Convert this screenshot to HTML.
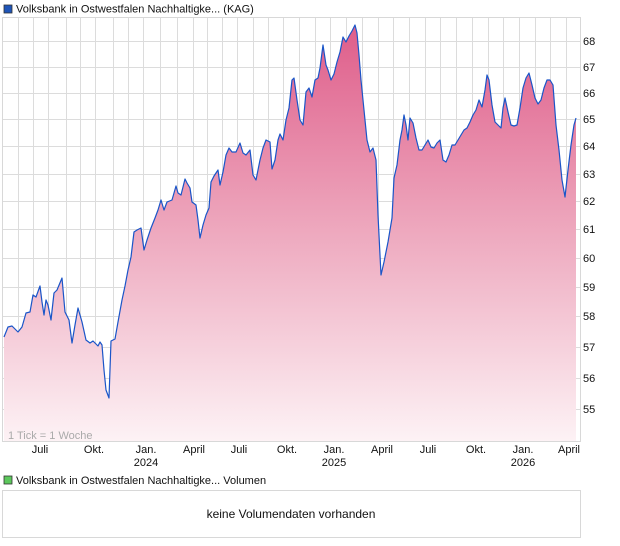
<!DOCTYPE html>
<html><head><meta charset="utf-8"><style>
body{margin:0;background:#fff;font-family:"Liberation Sans",sans-serif;}
svg{display:block}
</style></head><body>
<svg width="620" height="546" xmlns="http://www.w3.org/2000/svg" font-family="Liberation Sans, sans-serif">
<defs>
<linearGradient id="g" x1="0" y1="17" x2="0" y2="441" gradientUnits="userSpaceOnUse">
<stop offset="0" stop-color="#de5a88"/>
<stop offset="0.45" stop-color="#eca0b8"/>
<stop offset="1" stop-color="#fdf2f5"/>
</linearGradient>
</defs>
<rect x="4" y="5" width="8" height="8" fill="#1f55b8" stroke="#333" stroke-width="0.8"/>
<text x="16" y="12.5" font-size="11" fill="#111">Volksbank in Ostwestfalen Nachhaltigke... (KAG)</text>
<g stroke="#dcdcdc" stroke-width="1">
<line x1="18.5" y1="17" x2="18.5" y2="441"/><line x1="33.5" y1="17" x2="33.5" y2="441"/><line x1="48.5" y1="17" x2="48.5" y2="441"/><line x1="66.5" y1="17" x2="66.5" y2="441"/><line x1="80.5" y1="17" x2="80.5" y2="441"/><line x1="95.5" y1="17" x2="95.5" y2="441"/><line x1="113.5" y1="17" x2="113.5" y2="441"/><line x1="128.5" y1="17" x2="128.5" y2="441"/><line x1="143.5" y1="17" x2="143.5" y2="441"/><line x1="160.5" y1="17" x2="160.5" y2="441"/><line x1="177.5" y1="17" x2="177.5" y2="441"/><line x1="193.5" y1="17" x2="193.5" y2="441"/><line x1="207.5" y1="17" x2="207.5" y2="441"/><line x1="222.5" y1="17" x2="222.5" y2="441"/><line x1="237.5" y1="17" x2="237.5" y2="441"/><line x1="253.5" y1="17" x2="253.5" y2="441"/><line x1="268.5" y1="17" x2="268.5" y2="441"/><line x1="283.5" y1="17" x2="283.5" y2="441"/><line x1="299.5" y1="17" x2="299.5" y2="441"/><line x1="315.5" y1="17" x2="315.5" y2="441"/><line x1="330.5" y1="17" x2="330.5" y2="441"/><line x1="346.5" y1="17" x2="346.5" y2="441"/><line x1="362.5" y1="17" x2="362.5" y2="441"/><line x1="378.5" y1="17" x2="378.5" y2="441"/><line x1="393.5" y1="17" x2="393.5" y2="441"/><line x1="409.5" y1="17" x2="409.5" y2="441"/><line x1="425.5" y1="17" x2="425.5" y2="441"/><line x1="440.5" y1="17" x2="440.5" y2="441"/><line x1="456.5" y1="17" x2="456.5" y2="441"/><line x1="472.5" y1="17" x2="472.5" y2="441"/><line x1="488.5" y1="17" x2="488.5" y2="441"/><line x1="503.5" y1="17" x2="503.5" y2="441"/><line x1="519.5" y1="17" x2="519.5" y2="441"/><line x1="535.5" y1="17" x2="535.5" y2="441"/><line x1="550.5" y1="17" x2="550.5" y2="441"/><line x1="566.5" y1="17" x2="566.5" y2="441"/>
<line x1="2" y1="41.5" x2="580" y2="41.5"/><line x1="2" y1="67.5" x2="580" y2="67.5"/><line x1="2" y1="93.5" x2="580" y2="93.5"/><line x1="2" y1="119.5" x2="580" y2="119.5"/><line x1="2" y1="146.5" x2="580" y2="146.5"/><line x1="2" y1="174.5" x2="580" y2="174.5"/><line x1="2" y1="201.5" x2="580" y2="201.5"/><line x1="2" y1="229.5" x2="580" y2="229.5"/><line x1="2" y1="258.5" x2="580" y2="258.5"/><line x1="2" y1="287.5" x2="580" y2="287.5"/><line x1="2" y1="316.5" x2="580" y2="316.5"/><line x1="2" y1="347.5" x2="580" y2="347.5"/><line x1="2" y1="378.5" x2="580" y2="378.5"/><line x1="2" y1="409.5" x2="580" y2="409.5"/>
</g>
<path fill="url(#g)" stroke="none" d="M4,337 L8,327 L12,326 L18,332 L22,327 L26,313 L30,312 L33,295 L36,297 L40,286 L42,302 L44,315 L46,300 L48,305 L51,320 L54,293 L57,290 L62,278 L65,312 L69,320 L72,343 L75,325 L78,308 L82,322 L86,340 L90,343 L93,341 L95,343 L98,346 L100,342 L102,345 L104,370 L106,390 L109,398 L111,341 L115,339 L118,322 L122,300 L125,286 L128,270 L131,257 L134,232 L137,230 L141,228 L144,250 L147,240 L151,228 L155,218 L158,210 L161,200 L164,210 L167,202 L172,200 L176,186 L178,193 L181,195 L185,179 L187,183 L190,188 L192,202 L196,205 L198,220 L200,238 L203,225 L206,215 L209,208 L211,182 L214,176 L218,170 L220,185 L223,172 L226,155 L229,148 L232,152 L236,152 L240,143 L243,153 L246,155 L250,150 L253,175 L256,180 L260,160 L263,148 L266,140 L270,142 L272,169 L275,160 L278,140 L280,134 L283,140 L286,120 L289,108 L292,80 L294,78 L297,100 L300,120 L303,125 L306,92 L309,88 L312,97 L315,80 L318,78 L320,68 L323,45 L326,65 L328,70 L331,80 L334,74 L337,62 L340,52 L343,37 L346,42 L349,36 L352,31 L355,25 L357,33 L359,55 L361,80 L364,110 L367,140 L370,152 L373,148 L376,160 L378,215 L381,275 L384,262 L388,242 L392,218 L394,178 L397,165 L400,140 L402,130 L404,115 L406,125 L408,140 L410,118 L413,123 L416,138 L419,150 L422,150 L425,145 L428,140 L431,147 L434,148 L437,143 L440,140 L443,160 L446,162 L449,155 L452,145 L455,145 L458,140 L461,135 L464,130 L467,128 L470,122 L473,115 L476,110 L479,100 L482,107 L485,90 L487,75 L489,80 L492,105 L495,122 L498,125 L501,128 L503,108 L505,98 L508,112 L511,125 L514,126 L517,125 L520,108 L523,88 L526,78 L529,73 L532,85 L535,98 L538,104 L541,100 L544,88 L547,80 L550,80 L553,85 L556,125 L559,150 L562,180 L565,197 L568,170 L571,145 L574,125 L576,118 L576,441 L4,441 Z"/>
<path fill="none" stroke="#1a55c8" stroke-width="1.2" stroke-linejoin="round" d="M4,337 L8,327 L12,326 L18,332 L22,327 L26,313 L30,312 L33,295 L36,297 L40,286 L42,302 L44,315 L46,300 L48,305 L51,320 L54,293 L57,290 L62,278 L65,312 L69,320 L72,343 L75,325 L78,308 L82,322 L86,340 L90,343 L93,341 L95,343 L98,346 L100,342 L102,345 L104,370 L106,390 L109,398 L111,341 L115,339 L118,322 L122,300 L125,286 L128,270 L131,257 L134,232 L137,230 L141,228 L144,250 L147,240 L151,228 L155,218 L158,210 L161,200 L164,210 L167,202 L172,200 L176,186 L178,193 L181,195 L185,179 L187,183 L190,188 L192,202 L196,205 L198,220 L200,238 L203,225 L206,215 L209,208 L211,182 L214,176 L218,170 L220,185 L223,172 L226,155 L229,148 L232,152 L236,152 L240,143 L243,153 L246,155 L250,150 L253,175 L256,180 L260,160 L263,148 L266,140 L270,142 L272,169 L275,160 L278,140 L280,134 L283,140 L286,120 L289,108 L292,80 L294,78 L297,100 L300,120 L303,125 L306,92 L309,88 L312,97 L315,80 L318,78 L320,68 L323,45 L326,65 L328,70 L331,80 L334,74 L337,62 L340,52 L343,37 L346,42 L349,36 L352,31 L355,25 L357,33 L359,55 L361,80 L364,110 L367,140 L370,152 L373,148 L376,160 L378,215 L381,275 L384,262 L388,242 L392,218 L394,178 L397,165 L400,140 L402,130 L404,115 L406,125 L408,140 L410,118 L413,123 L416,138 L419,150 L422,150 L425,145 L428,140 L431,147 L434,148 L437,143 L440,140 L443,160 L446,162 L449,155 L452,145 L455,145 L458,140 L461,135 L464,130 L467,128 L470,122 L473,115 L476,110 L479,100 L482,107 L485,90 L487,75 L489,80 L492,105 L495,122 L498,125 L501,128 L503,108 L505,98 L508,112 L511,125 L514,126 L517,125 L520,108 L523,88 L526,78 L529,73 L532,85 L535,98 L538,104 L541,100 L544,88 L547,80 L550,80 L553,85 L556,125 L559,150 L562,180 L565,197 L568,170 L571,145 L574,125 L576,118"/>
<rect x="2.5" y="17.5" width="578" height="424" fill="none" stroke="#d8d8d8"/>
<text x="8" y="439" font-size="11" fill="#aaa">1 Tick = 1 Woche</text>
<g font-size="11" fill="#111">
<text x="583" y="45">68</text><text x="583" y="71">67</text><text x="583" y="97">66</text><text x="583" y="123">65</text><text x="583" y="150">64</text><text x="583" y="178">63</text><text x="583" y="205">62</text><text x="583" y="233">61</text><text x="583" y="262">60</text><text x="583" y="291">59</text><text x="583" y="320">58</text><text x="583" y="351">57</text><text x="583" y="382">56</text><text x="583" y="413">55</text>
</g>
<g font-size="11" fill="#111" text-anchor="middle">
<text x="40" y="453">Juli</text><text x="94" y="453">Okt.</text><text x="146" y="453">Jan.</text><text x="146" y="466">2024</text><text x="194" y="453">April</text><text x="239" y="453">Juli</text><text x="287" y="453">Okt.</text><text x="334" y="453">Jan.</text><text x="334" y="466">2025</text><text x="382" y="453">April</text><text x="428" y="453">Juli</text><text x="476" y="453">Okt.</text><text x="523" y="453">Jan.</text><text x="523" y="466">2026</text><text x="569" y="453">April</text>
</g>
<rect x="4" y="476" width="8" height="8" fill="#5cc85c" stroke="#333" stroke-width="0.8"/>
<text x="16" y="484" font-size="11" fill="#111">Volksbank in Ostwestfalen Nachhaltigke... Volumen</text>
<rect x="2.5" y="490.5" width="578" height="47" fill="#fff" stroke="#d8d8d8"/>
<text x="291" y="518" font-size="12" fill="#111" text-anchor="middle">keine Volumendaten vorhanden</text>
</svg>
</body></html>
